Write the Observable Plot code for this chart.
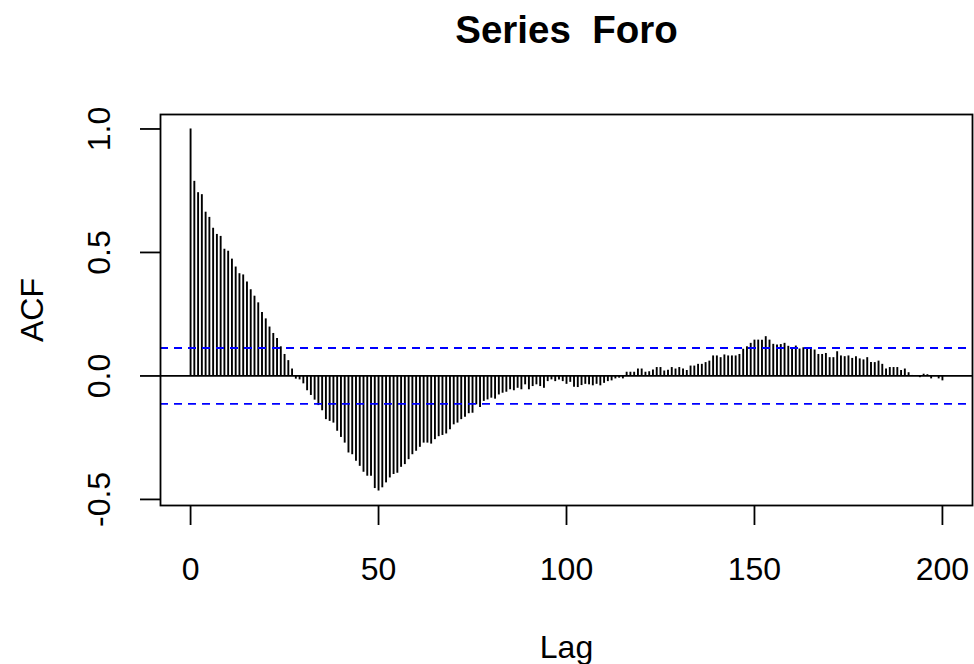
<!DOCTYPE html>
<html>
<head>
<meta charset="utf-8">
<script src="https://cdn.jsdelivr.net/npm/d3@7"></script>
<script src="https://cdn.jsdelivr.net/npm/@observablehq/plot@0.6"></script>
<style>
  html, body { margin: 0; padding: 0; background: #fff; }
  svg text { white-space: pre; }
</style>
</head>
<body>
<div id="chart"></div>
<script>
// ACF values for lags 0..200
const acf = [
  1.000, 0.788, 0.742, 0.734, 0.663, 0.642, 0.598, 0.573, 0.565, 0.513,
  0.505, 0.473, 0.441, 0.414, 0.409, 0.380, 0.349, 0.323, 0.296, 0.257,
  0.231, 0.198, 0.172, 0.152, 0.118, 0.087, 0.062, 0.028, -0.013, -0.016,
  -0.032, -0.060, -0.079, -0.098, -0.120, -0.141, -0.177, -0.184, -0.191, -0.224,
  -0.249, -0.272, -0.312, -0.319, -0.345, -0.366, -0.390, -0.406, -0.406, -0.456,
  -0.466, -0.453, -0.433, -0.413, -0.399, -0.394, -0.370, -0.359, -0.339, -0.319,
  -0.305, -0.289, -0.272, -0.272, -0.276, -0.258, -0.246, -0.241, -0.235, -0.218,
  -0.198, -0.191, -0.177, -0.167, -0.153, -0.151, -0.117, -0.128, -0.103, -0.097,
  -0.090, -0.094, -0.077, -0.070, -0.066, -0.056, -0.060, -0.050, -0.056, -0.036,
  -0.056, -0.043, -0.036, -0.043, -0.050, -0.023, -0.016, -0.023, -0.016, -0.023,
  -0.034, -0.026, -0.046, -0.047, -0.039, -0.034, -0.036, -0.040, -0.034, -0.040,
  -0.030, -0.023, -0.020, -0.012, -0.009, -0.012, 0.015, 0.015, 0.015, 0.028,
  0.028, 0.015, 0.017, 0.024, 0.034, 0.034, 0.020, 0.023, 0.034, 0.028,
  0.034, 0.028, 0.022, 0.040, 0.040, 0.047, 0.047, 0.054, 0.060, 0.081,
  0.081, 0.074, 0.085, 0.081, 0.081, 0.081, 0.087, 0.108, 0.118, 0.132,
  0.145, 0.145, 0.145, 0.159, 0.145, 0.128, 0.125, 0.127, 0.132, 0.120,
  0.108, 0.121, 0.109, 0.114, 0.114, 0.114, 0.105, 0.087, 0.087, 0.091,
  0.074, 0.074, 0.098, 0.081, 0.078, 0.081, 0.071, 0.078, 0.069, 0.065,
  0.074, 0.054, 0.054, 0.060, 0.047, 0.028, 0.034, 0.034, 0.034, 0.022,
  0.028, 0.013, 0.002, 0.001, -0.007, 0.007, 0.005, -0.012, -0.002, -0.012,
  -0.020
];
const lags = acf.map((_, i) => i);
const confBounds = [0.1132, -0.1132];
const xTicks = [0, 50, 100, 150, 200];
const yTicks = [-0.5, 0.0, 0.5, 1.0];
const yTickLabels = ["-0.5", "0.0", "0.5", "1.0"];
const titleText = "Series  Foro";
const xLabel = "Lag";
const yLabel = "ACF";

const data = lags.map((lag, i) => ({lag, acf: acf[i]}));
const yTickData = yTicks.map((v, i) => ({v, label: yTickLabels[i]}));
const font = "'Liberation Sans', Arial, Helvetica, sans-serif";

const chart = Plot.plot({
  width: 974,
  height: 664,
  marginLeft: 160,
  marginRight: 2,
  marginTop: 114,
  marginBottom: 159,
  style: {fontFamily: font, background: "white", color: "black"},
  x: {domain: [-8, 208], label: null},
  y: {domain: [-0.5246, 1.0586], label: null},
  marks: [
    Plot.ruleX(data, {x: "lag", y1: 0, y2: "acf", stroke: "black", strokeWidth: 1.9}),
    Plot.ruleY([0], {stroke: "black", strokeWidth: 1.8}),
    Plot.ruleY(confBounds, {stroke: "#0000ff", strokeWidth: 1.8, strokeDasharray: "8,6"}),
    Plot.frame({stroke: "black", strokeWidth: 1.8}),
    Plot.axisX({ticks: xTicks, tickSize: 20, tickPadding: 32, fontSize: 32, strokeWidth: 1.8, label: null, tickFormat: d => String(d)}),
    Plot.axisY({ticks: yTicks, tickSize: 20, strokeWidth: 1.8, label: null, tickFormat: () => ""}),
    Plot.text(yTickData, {y: "v", frameAnchor: "left", text: "label", rotate: -90, lineAnchor: "bottom", textAnchor: "middle", dx: -51, fontSize: 32}),
    Plot.text([titleText], {frameAnchor: "top", lineAnchor: "bottom", dy: -72, fontSize: 38.5, fontWeight: "bold"}),
    Plot.text([xLabel], {frameAnchor: "bottom", lineAnchor: "bottom", dy: 152, fontSize: 32}),
    Plot.text([yLabel], {frameAnchor: "left", rotate: -90, lineAnchor: "bottom", textAnchor: "middle", dx: -118, fontSize: 32})
  ]
});
document.getElementById("chart").appendChild(chart);
</script>
</body>
</html>
